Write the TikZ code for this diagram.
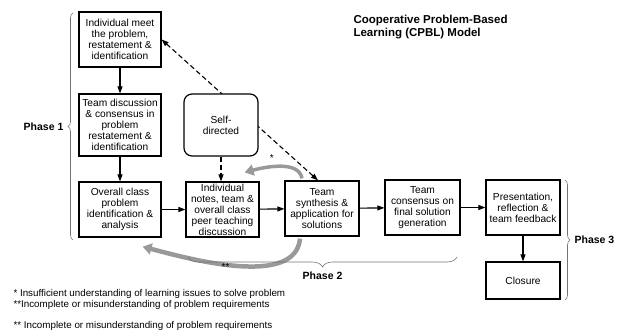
\documentclass[tikz,border=0pt]{standalone}
\usepackage{fontspec}
\setmainfont{Liberation Sans}
\usetikzlibrary{arrows.meta,decorations.pathreplacing}
\begin{document}
\begin{tikzpicture}[x=1pt,y=1pt,
                stage/.style={draw,line width=1.2pt,align=center,inner sep=1pt,font=\fontsize{10.2}{11}\selectfont},
                flow/.style={line width=1.1pt,-{Triangle[length=7pt,width=5pt]}},
                selfline/.style={line width=1.1pt,dash pattern=on 5pt off 3pt},
                loopback/.style={line width=4pt,black!40,-{Triangle[length=9pt,width=11pt]}},
                phase/.style={font=\bfseries\fontsize{10.5}{12}\selectfont},
                phasebrace/.style={decorate,decoration={brace,amplitude=5pt},black!55,line width=0.6pt}]
                \useasboundingbox (0,0) rectangle (623,-334);
                \node[stage,minimum width=82,minimum height=55] (meet) at (120,-39.5) {Individual meet\\the problem,\\restatement \&\\identification};
                \node[stage,minimum width=82,minimum height=62] (teamdisc) at (120,-125) {Team discussion\\\& consensus in\\problem\\restatement \&\\identification};
                \node[stage,minimum width=82,minimum height=55] (overall) at (120,-209.5) {Overall class\\problem\\identification \&\\analysis};
                \node[stage,minimum width=73,minimum height=55] (notes) at (222.5,-209.5) {Individual\\notes, team \&\\overall class\\peer teaching\\discussion};
                \node[stage,minimum width=74,minimum height=55] (synth) at (322,-208.5) {Team\\synthesis \&\\application for\\solutions};
                \node[stage,minimum width=75,minimum height=55] (consensus) at (422.5,-207.5) {Team\\consensus on\\final solution\\generation};
                \node[stage,minimum width=74,minimum height=55] (present) at (523,-207.5) {Presentation,\\reflection \&\\team feedback};
                \node[stage,minimum width=74,minimum height=37] (closure) at (523,-280.5) {Closure};
                \draw[selfline,{Triangle[length=7pt,width=5pt]}-{Triangle[length=7pt,width=5pt]}] (meet.east) -- ([xshift=-4pt]synth.north);
                \node[stage,fill=white,rounded corners=8pt,minimum width=74,minimum height=62] (selfdir) at (221,-125) {Self-\\directed};
                \draw[selfline,-{Triangle[length=7pt,width=5pt]}] (selfdir.south) -- (selfdir.south |- notes.north);
                \draw[flow] (meet) -- (teamdisc);
                \draw[flow] (teamdisc) -- (overall);
                \draw[flow] (overall) -- (notes);
                \draw[flow] (notes) -- (synth);
                \draw[flow] (synth) -- (consensus);
                \draw[flow] (consensus) -- (present);
                \draw[flow] (present) -- (closure);
                \draw[loopback,line width=3.5pt] ([xshift=-20pt,yshift=2pt]synth.north) to[out=100,in=15,looseness=0.85] node[pos=0.6,above=0pt,black,font=\fontsize{10}{11}\selectfont] {*} ([xshift=-15pt,yshift=9pt]notes.north east);
                \draw[loopback,line width=4.5pt] ([xshift=-22pt,yshift=-2pt]synth.south) to[out=-95,in=-15,looseness=0.8] node[pos=0.56,yshift=-2pt,black,font=\fontsize{10}{11}\selectfont] {**} ([xshift=-19pt,yshift=-9pt]overall.south east);
                \draw[phasebrace] (73,-240) -- (73,-13) node[midway,left=6pt,black,phase] {Phase 1};
                \draw[phasebrace,decoration={amplitude=10pt}] (457,-257) -- (188,-257) node[midway,below=11pt,black,phase] {Phase 2};
                \draw[phasebrace] (565,-180) -- (565,-300) node[midway,right=6pt,black,phase] {Phase 3};
                \node[anchor=north west,align=left,font=\bfseries\fontsize{11.5}{12.5}\selectfont] (title) at (350,-12) {Cooperative Problem-Based\\Learning (CPBL) Model};
                \node[anchor=west,font=\fontsize{9.8}{11}\selectfont] (note1) at (10,-294) {* Insufficient understanding of learning issues to solve problem};
                \node[anchor=west,font=\fontsize{9.8}{11}\selectfont] (note2) at (10,-305) {**Incomplete or misunderstanding of problem requirements};
                \node[anchor=west,font=\fontsize{9.8}{11}\selectfont] (note3) at (10,-326) {** Incomplete or misunderstanding of problem requirements};
            \end{tikzpicture}
\end{document}
